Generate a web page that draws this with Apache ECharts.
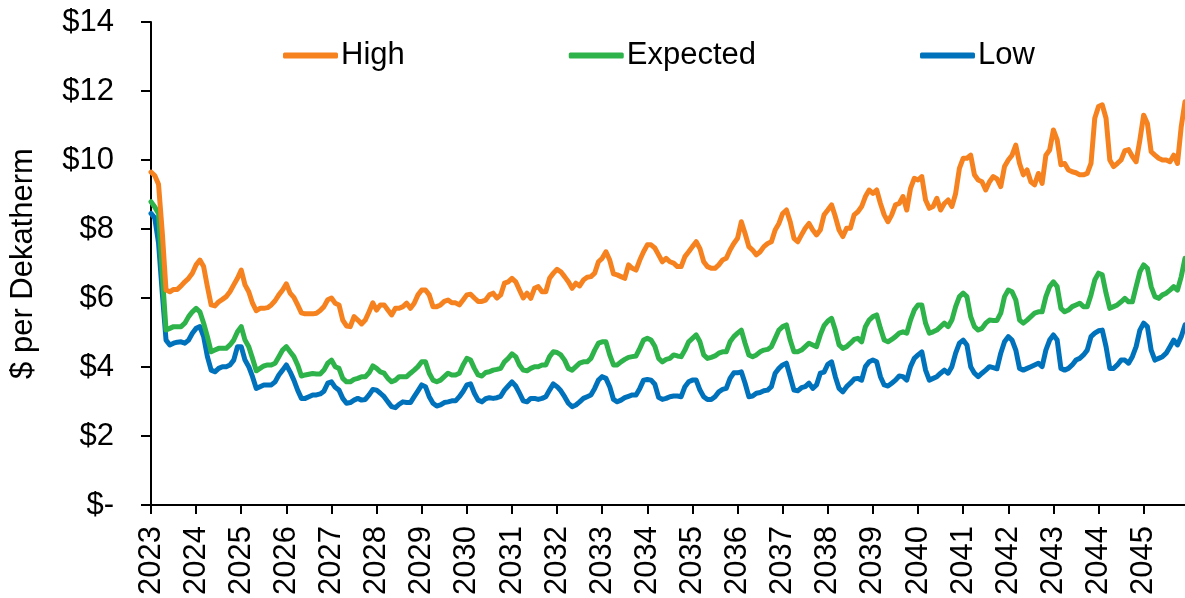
<!DOCTYPE html>
<html>
<head>
<meta charset="utf-8">
<script src="https://cdn.jsdelivr.net/npm/echarts@6/dist/echarts.min.js"></script>
<style>
html,body{margin:0;padding:0;background:#fff;}
#chart{width:1185px;height:598px;}
</style>
</head>
<body>
<div id="chart"></div>
<script>
// Years shown on the axis (monthly data Jan 2023 - Dec 2045)
const years = [2023,2024,2025,2026,2027,2028,2029,2030,2031,2032,2033,2034,2035,2036,2037,2038,2039,2040,2041,2042,2043,2044,2045];
const monthsPerYear = 12;

const yTickLabels = ['$-','$2','$4','$6','$8','$10','$12','$14'];

const high = [
9.65,9.55,9.3,7.9,6.23,6.18,6.25,6.25,6.35,6.47,6.57,6.72,
6.96,7.1,6.91,6.33,5.8,5.77,5.89,5.96,6.04,6.18,6.38,6.57,
6.81,6.38,6.18,5.85,5.63,5.7,5.7,5.72,5.8,5.92,6.09,6.23,
6.41,6.14,6.02,5.8,5.57,5.54,5.54,5.54,5.56,5.64,5.75,5.95,
6.0,5.85,5.8,5.36,5.19,5.17,5.46,5.36,5.25,5.36,5.6,5.86,
5.65,5.8,5.8,5.65,5.51,5.7,5.7,5.75,5.85,5.7,5.85,6.09,
6.23,6.23,6.09,5.75,5.75,5.8,5.9,5.94,5.86,5.86,5.8,5.94,
6.09,6.11,6.0,5.9,5.9,5.94,6.09,6.14,6.0,6.09,6.43,6.47,
6.57,6.47,6.23,6.0,6.14,5.99,6.28,6.33,6.18,6.18,6.57,6.72,
6.83,6.76,6.62,6.47,6.28,6.43,6.35,6.52,6.6,6.62,6.72,7.05,
7.15,7.34,7.1,6.7,6.67,6.62,6.57,6.96,6.86,6.81,7.1,7.34,
7.54,7.54,7.45,7.25,7.05,7.15,7.05,7.01,6.91,6.91,7.2,7.34,
7.49,7.63,7.43,7.05,6.91,6.86,6.86,6.96,7.1,7.15,7.39,7.58,
7.73,8.21,7.87,7.49,7.39,7.25,7.34,7.49,7.58,7.63,7.97,8.16,
8.45,8.55,8.21,7.73,7.63,7.83,8.02,8.16,7.97,7.83,7.97,8.41,
8.55,8.7,8.36,7.97,7.78,8.02,8.02,8.41,8.5,8.65,8.94,9.13,
9.03,9.13,8.74,8.41,8.21,8.41,8.7,8.74,8.94,8.55,9.18,9.47,
9.42,9.52,8.84,8.6,8.65,8.89,8.55,8.74,8.84,8.65,9.03,9.76,
10.05,10.05,10.14,9.57,9.42,9.37,9.13,9.37,9.52,9.45,9.23,9.81,
10.0,10.14,10.43,9.9,9.57,9.71,9.37,9.28,9.61,9.32,10.14,10.29,
10.87,10.58,9.86,9.9,9.71,9.66,9.63,9.57,9.57,9.61,9.9,11.21,
11.55,11.6,11.21,10.0,9.81,9.9,10.0,10.27,10.3,10.1,9.95,10.58,
11.3,11.06,10.24,10.14,10.05,10.0,10.0,9.95,10.14,9.9,10.97,11.69
];

const expected = [
8.79,8.64,8.45,6.7,5.07,5.12,5.17,5.17,5.17,5.27,5.46,5.6,
5.7,5.6,5.27,4.88,4.44,4.49,4.54,4.54,4.54,4.64,4.78,5.02,
5.17,4.78,4.59,4.25,3.89,3.96,4.03,4.06,4.06,4.11,4.3,4.49,
4.59,4.44,4.3,4.06,3.74,3.77,3.79,3.81,3.8,3.8,3.91,4.11,
4.2,4.01,3.96,3.67,3.57,3.57,3.64,3.67,3.72,3.72,3.83,4.03,
3.96,3.86,3.82,3.67,3.57,3.62,3.72,3.72,3.72,3.82,3.91,4.01,
4.15,4.15,3.82,3.62,3.57,3.62,3.72,3.82,3.77,3.77,3.82,4.06,
4.25,4.2,3.96,3.77,3.74,3.84,3.86,3.91,3.93,3.96,4.15,4.25,
4.38,4.3,4.06,3.91,3.89,3.96,4.01,4.01,4.06,4.06,4.3,4.44,
4.42,4.35,4.2,3.96,3.91,4.01,4.11,4.15,4.15,4.25,4.49,4.69,
4.73,4.73,4.35,4.06,4.06,4.15,4.22,4.28,4.3,4.32,4.54,4.78,
4.83,4.78,4.6,4.25,4.15,4.22,4.25,4.35,4.32,4.3,4.49,4.73,
4.83,4.93,4.73,4.35,4.25,4.28,4.32,4.4,4.44,4.44,4.73,4.88,
4.98,5.07,4.69,4.35,4.3,4.35,4.44,4.49,4.51,4.59,4.83,5.07,
5.17,5.22,4.78,4.44,4.44,4.49,4.59,4.69,4.64,4.59,4.93,5.2,
5.33,5.41,5.07,4.64,4.54,4.59,4.69,4.8,4.83,4.73,5.17,5.36,
5.46,5.51,5.12,4.78,4.73,4.8,4.88,4.98,5.02,4.98,5.36,5.65,
5.8,5.8,5.27,4.98,5.02,5.07,5.17,5.27,5.17,5.36,5.75,6.04,
6.14,6.04,5.46,5.17,5.07,5.12,5.27,5.36,5.35,5.35,5.56,6.04,
6.23,6.18,5.94,5.36,5.27,5.36,5.46,5.56,5.6,5.6,6.04,6.33,
6.47,6.33,5.7,5.6,5.65,5.75,5.8,5.85,5.75,5.75,6.09,6.52,
6.72,6.67,6.14,5.7,5.75,5.8,5.89,5.99,5.89,5.89,6.33,6.76,
6.96,6.86,6.33,6.04,5.99,6.09,6.14,6.23,6.33,6.23,6.62,7.15
];

const low = [
8.45,8.32,7.6,6.14,4.78,4.64,4.69,4.72,4.73,4.69,4.78,4.98,
5.12,5.17,4.88,4.3,3.91,3.86,3.96,4.01,4.01,4.06,4.2,4.59,
4.59,4.2,4.01,3.72,3.38,3.43,3.48,3.48,3.48,3.57,3.77,3.91,
4.06,3.86,3.62,3.33,3.09,3.09,3.14,3.19,3.19,3.22,3.3,3.53,
3.57,3.41,3.33,3.09,2.95,2.97,3.04,3.09,3.04,3.06,3.19,3.35,
3.33,3.24,3.14,2.99,2.85,2.82,2.92,2.99,2.97,2.97,3.14,3.31,
3.48,3.43,3.14,2.95,2.87,2.9,2.97,2.99,3.02,3.02,3.14,3.29,
3.48,3.51,3.24,3.04,2.99,3.08,3.11,3.09,3.11,3.15,3.33,3.45,
3.57,3.45,3.24,3.02,2.99,3.09,3.09,3.06,3.09,3.14,3.33,3.51,
3.43,3.31,3.14,2.95,2.85,2.9,2.99,3.09,3.14,3.19,3.38,3.62,
3.72,3.67,3.43,3.06,2.99,3.04,3.11,3.15,3.19,3.19,3.38,3.62,
3.64,3.62,3.5,3.12,3.06,3.09,3.14,3.16,3.16,3.14,3.43,3.57,
3.62,3.62,3.33,3.14,3.06,3.06,3.14,3.28,3.35,3.38,3.67,3.83,
3.83,3.86,3.53,3.14,3.16,3.24,3.26,3.31,3.33,3.43,3.82,3.96,
4.06,4.11,3.72,3.33,3.31,3.4,3.43,3.53,3.38,3.48,3.82,3.85,
4.08,4.15,3.72,3.38,3.28,3.43,3.53,3.65,3.67,3.62,4.01,4.15,
4.2,4.15,3.72,3.48,3.45,3.53,3.62,3.74,3.72,3.62,4.01,4.25,
4.35,4.44,3.91,3.62,3.67,3.72,3.82,3.91,3.82,4.01,4.4,4.69,
4.78,4.64,4.01,3.82,3.72,3.82,3.91,4.01,3.98,3.95,4.4,4.73,
4.88,4.78,4.49,3.96,3.91,3.96,4.01,4.06,4.11,4.01,4.49,4.78,
4.93,4.78,3.96,3.91,3.96,4.06,4.2,4.25,4.35,4.49,4.88,4.98,
5.05,5.07,4.59,3.96,3.96,4.06,4.2,4.2,4.11,4.3,4.59,5.07,
5.27,5.17,4.49,4.2,4.25,4.3,4.4,4.59,4.78,4.64,4.88,5.22
];

const seriesNames = ['High','Expected','Low'];
const seriesColors = ['#F5821F','#2DB34A','#0072BC'];

// Build monthly categories
const categories = [];
years.forEach(y => { for (let m = 1; m <= monthsPerYear; m++) categories.push(y + '-' + (m < 10 ? '0' + m : m)); });

const FONT = "'Liberation Sans', Arial, sans-serif";
const chart = echarts.init(document.getElementById('chart'), null, {renderer: 'canvas'});

const showYear = (idx) => idx % monthsPerYear === 0;

chart.setOption({
  animation: false,
  backgroundColor: '#fff',
  textStyle: {fontFamily: FONT, color: '#000'},
  grid: {left: 147, right: 0, top: 22, bottom: 93, containLabel: false},
  legend: {
    data: seriesNames,
    left: 278, top: 35,
    itemGap: 164,
    itemWidth: 55, itemHeight: 6,
    icon: 'roundRect',
    textStyle: {fontFamily: FONT, fontSize: 31, color: '#000', padding: [0, 0, 0, -2]}
  },
  xAxis: {
    type: 'category',
    data: categories,
    boundaryGap: false,
    axisLine: {lineStyle: {color: '#000', width: 2}},
    axisTick: {show: true, interval: (i) => showYear(i), length: 9, lineStyle: {color: '#000', width: 2}},
    axisLabel: {
      interval: (i) => showYear(i),
      rotate: 90,
      margin: 21,
      fontSize: 31, fontFamily: FONT, color: '#000',
      formatter: (v) => v.slice(0, 4)
    },
    splitLine: {show: false}
  },
  yAxis: {
    type: 'value',
    min: 0, max: 14, interval: 2,
    name: '$ per Dekatherm',
    nameLocation: 'middle',
    nameGap: 112,
    nameRotate: 90,
    nameTextStyle: {fontFamily: FONT, fontSize: 31, color: '#000'},
    axisLine: {show: true, lineStyle: {color: '#000', width: 2}},
    axisTick: {show: true, length: 10, lineStyle: {color: '#000', width: 2}},
    axisLabel: {
      margin: 37, fontSize: 31, fontFamily: FONT, color: '#000',
      formatter: (v) => yTickLabels[Math.round(v / 2)]
    },
    splitLine: {show: false}
  },
  series: [high, expected, low].map((d, k) => ({
    name: seriesNames[k],
    type: 'line',
    data: d,
    showSymbol: false,
    symbol: 'none',
    smooth: false,
    clip: false,
    lineStyle: {color: seriesColors[k], width: 5, join: 'round', cap: 'round'},
    itemStyle: {color: seriesColors[k]},
    z: 3 - k
  }))
});
</script>
</body>
</html>
